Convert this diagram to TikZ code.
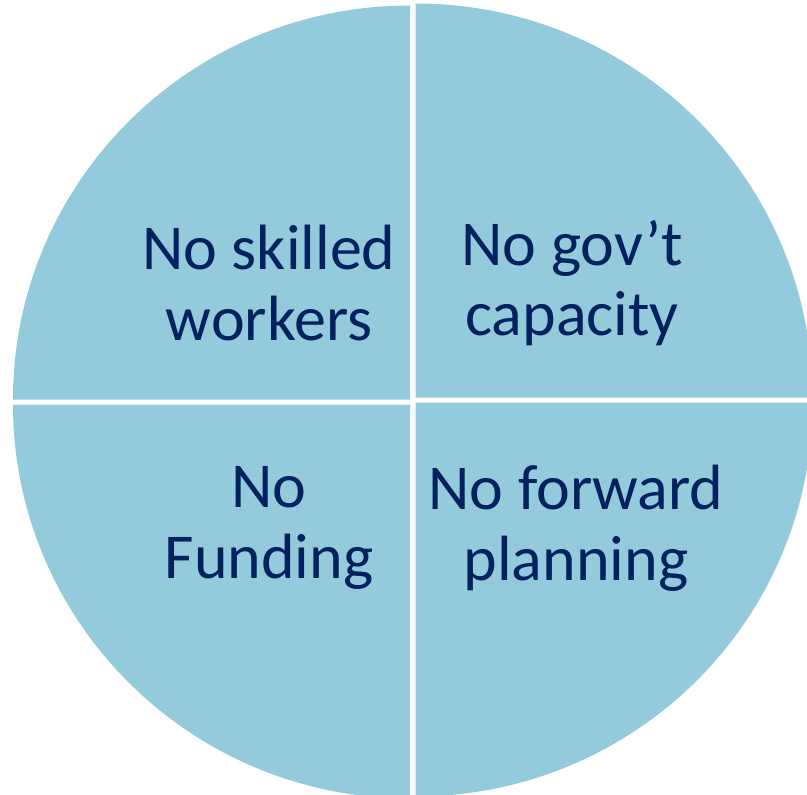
\documentclass[tikz,border=0pt]{standalone}
\usepackage{fontspec}
\setmainfont{Carlito}
\definecolor{quadblue}{RGB}{147,203,220}
\definecolor{textnavy}{RGB}{0,32,96}

\begin{document}
\begin{tikzpicture}[x=0.75pt,y=0.75pt,
    quadrant/.style={fill=quadblue},
    quadtext/.style={text=textnavy, align=center, font=\fontsize{48}{53}\selectfont}]
  \useasboundingbox (0,0) rectangle (807,794);

  % draw quadrants
  \foreach \cx/\cy/\a in {410/394.5/90, 415.5/396.5/0, 410/389.5/180, 415.5/391.5/270}
    \fill[quadrant] (\cx,\cy) -- ++(\a:397 and 394)
      arc[start angle=\a, delta angle=90, x radius=397, y radius=394] -- cycle;

  % draw labels
  \node[quadtext] (skilled) at (269,511) {No skilled\\workers};
  \node[quadtext] (govt) at (572,511) {No gov’t\\capacity};
  \node[quadtext] (funding) at (269,266) {No\\Funding};
  \node[quadtext] (forward) at (576,266) {No forward\\planning};
\end{tikzpicture}
\end{document}
